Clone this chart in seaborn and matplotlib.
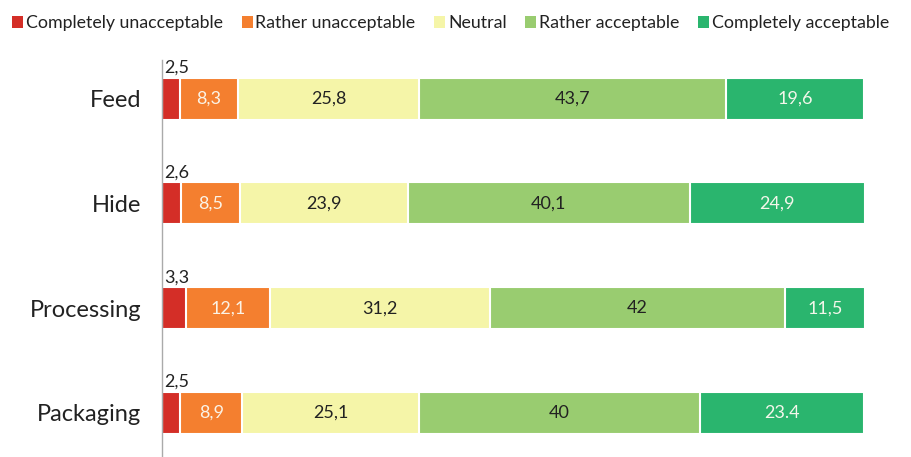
import matplotlib
matplotlib.use("Agg")
import matplotlib.pyplot as plt
from matplotlib.patches import Patch
import numpy as np
import pandas as pd
import seaborn as sns

# chart data
categories = ["Feed", "Hide", "Processing", "Packaging"]
series_names = ["Completely unacceptable", "Rather unacceptable", "Neutral",
                "Rather acceptable", "Completely acceptable"]
completely_unacceptable = [2.5, 2.6, 3.3, 2.5]
rather_unacceptable = [8.3, 8.5, 12.1, 8.9]
neutral = [25.8, 23.9, 31.2, 25.1]
rather_acceptable = [43.7, 40.1, 42, 40]
completely_acceptable = [19.6, 24.9, 11.5, 23.4]
label_text = [
    ["2,5", "2,6", "3,3", "2,5"],
    ["8,3", "8,5", "12,1", "8,9"],
    ["25,8", "23,9", "31,2", "25,1"],
    ["43,7", "40,1", "42", "40"],
    ["19,6", "24,9", "11,5", "23.4"],
]

colors = ["#d42e27", "#f47f2f", "#f5f5a8", "#99cc70", "#2ab56e"]
text_colors = [None, "#fbf3e6", "#222222", "#222222", "#f3f6ea"]

sns.set_theme(style="white")
plt.rcParams["font.family"] = ["Lato", "DejaVu Sans"]

values = np.array([completely_unacceptable, rather_unacceptable, neutral,
                   rather_acceptable, completely_acceptable])
cum = values.cumsum(axis=0)

fig = plt.figure(figsize=(9.12, 4.57), dpi=100)
ax = fig.add_axes([0.178, 0.0, 0.770, 0.869])

# stacked bars: draw the longest cumulative first, shorter ones on top
for i in range(len(series_names) - 1, -1, -1):
    df = pd.DataFrame({"cat": categories, "val": cum[i]})
    sns.barplot(data=df, x="val", y="cat", color=colors[i], width=0.4,
                edgecolor="white", linewidth=1.5, saturation=1, ax=ax)

for i in range(len(series_names)):
    for j, cat in enumerate(categories):
        start = cum[i][j] - values[i][j]
        if i == 0:
            ax.text(start + 0.2, j - 0.22, label_text[i][j], ha="left",
                    va="bottom", fontsize=13, color="#222222")
        else:
            ax.text(start + values[i][j] / 2, j, label_text[i][j], ha="center",
                    va="center", fontsize=13, color=text_colors[i])

ax.set_xlim(0, 100)
ax.set_ylim(3.42, -0.37)
ax.set_xlabel("")
ax.set_ylabel("")
ax.set_xticks([])
ax.tick_params(axis="y", labelsize=17, colors="#222222", length=0, pad=15)
for s in ["top", "right", "bottom"]:
    ax.spines[s].set_visible(False)
ax.spines["left"].set_color("#aaaaaa")
ax.spines["left"].set_linewidth(1)

handles = [Patch(facecolor=c, edgecolor="none") for c in colors]
fig.legend(handles, series_names, loc="upper left", bbox_to_anchor=(-0.003, 1.0),
           ncol=5, frameon=False, fontsize=12.8, handlelength=0.62,
           handleheight=0.62, handletextpad=0.15, columnspacing=1.05,
           borderaxespad=0.45, labelcolor="#222222")

fig.savefig("out.png", dpi=100)
